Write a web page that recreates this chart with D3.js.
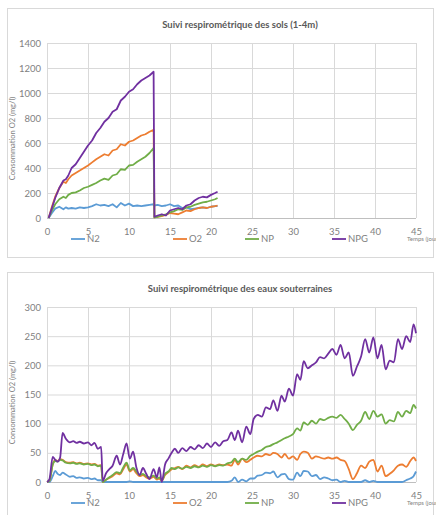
<!DOCTYPE html>
<html>
<head>
<meta charset="utf-8">
<script src="https://cdnjs.cloudflare.com/ajax/libs/d3/7.8.5/d3.min.js"></script>
<style>
  body { margin: 0; background: #fff; }
  text { font-family: Lato, "Open Sans", sans-serif; }
</style>
</head>
<body>
<div id="chart"></div>
<script>
// series shared by both charts
const seriesNames = ["N2", "O2", "NP", "NPG"];
const seriesColors = ["#5b9bd5", "#ed7d31", "#70ad47", "#7030a0"];
const xTicks = [0, 5, 10, 15, 20, 25, 30, 35, 40, 45];
const legendX = [71, 173, 245, 332];

// chart 1 : sols (1-4m)
const solsTitle = "Suivi respirométrique des sols (1-4m)";
const solsYTicks = [0, 200, 400, 600, 800, 1000, 1200, 1400];
const solsTime = [0.2, 0.6, 1.0, 1.5, 2.0, 2.3, 2.6, 3.0, 3.5, 4.0, 4.5, 5.0, 5.5, 6.0, 6.5,
  7.0, 7.5, 8.0, 8.5, 9.0, 9.5, 10.0, 10.5, 11.0, 11.5, 12.0, 12.5, 13.0, 13.1, 13.5,
  14.0, 14.5, 15.0, 15.5, 16.0, 16.5, 17.0, 17.5, 18.0, 18.5, 19.0, 19.5, 20.0, 20.5, 20.8];
const solsN2 = [0, 40, 75, 90, 70, 85, 75, 80, 75, 85, 80, 85, 95, 110, 100,
  105, 95, 110, 85, 120, 100, 115, 95, 100, 95, 100, 105, 110, 100, 105,
  95, 100, 110, 95, 100, 80, 85, 70, 75, 80, 85, 80, 90, 95, 95];
const solsO2 = [0, 90, 170, 240, 290, 280, 310, 340, 360, 380, 400, 420, 445, 470, 490,
  510, 500, 540, 550, 590, 580, 610, 620, 640, 660, 670, 690, 705, 5, 10,
  15, 25, 40, 35, 30, 45, 60, 55, 70, 80, 85, 80, 90, 95, 100];
const solsNP = [0, 60, 110, 150, 170, 160, 185, 200, 205, 220, 240, 250, 265, 280, 300,
  315, 305, 340, 350, 390, 385, 420, 425, 450, 470, 490, 520, 560, 5, 10,
  20, 30, 45, 55, 70, 65, 85, 90, 105, 115, 125, 130, 140, 150, 160];
const solsNPG = [0, 80, 160, 240, 300, 310, 340, 400, 430, 480, 530, 580, 620, 680, 720,
  770, 800, 850, 870, 940, 970, 1010, 1030, 1070, 1100, 1120, 1140, 1170, 10, 20,
  30, 20, 60, 70, 80, 70, 100, 110, 140, 160, 170, 165, 185, 200, 210];

// chart 2 : eaux souterraines
const eauxTitle = "Suivi respirométrique des eaux souterraines";
const eauxYTicks = [0, 50, 100, 150, 200, 250, 300];
const eauxTime = [0, 0.3, 0.7, 1.0, 1.3, 1.6, 1.9, 2.3, 2.8, 3.2,
  3.6, 4.0, 4.5, 5.0, 5.4, 5.8, 6.2, 6.6, 6.8, 7.2,
  7.6, 8.0, 8.5, 8.9, 9.3, 9.7, 10.1, 10.5, 10.9, 11.3,
  11.7, 12.1, 12.5, 13.0, 13.4, 13.7, 14.0, 14.4, 14.8, 15.2,
  15.6, 16.0, 16.5, 17.0, 17.5, 18.0, 18.5, 19.0, 19.5, 20.0,
  20.5, 21.0, 21.5, 22.0, 22.5, 22.9, 23.3, 23.8, 24.3, 24.8,
  25.2, 25.7, 26.2, 26.7, 27.2, 27.6, 28.1, 28.6, 29.0, 29.5,
  30.0, 30.5, 30.9, 31.3, 31.8, 32.3, 32.8, 33.3, 33.8, 34.3,
  34.8, 35.3, 35.8, 36.3, 36.8, 37.3, 37.8, 38.3, 38.8, 39.3,
  39.8, 40.3, 40.8, 41.3, 41.8, 42.3, 42.8, 43.3, 43.8, 44.3,
  44.7, 45.0];
const eauxN2 = [0, 0, 10, 19, 14, 12, 16, 13, 9, 10,
  7, 8, 6, 7, 5, 6, 3, 3, 0, 0,
  0, 0, 0, 0, 0, 0, 1, 0, 0, 0,
  0, 0, 0, 0, 0, 0, 0, 0, 0, 0,
  0, 0, 0, 0, 0, 0, 0, 0, 0, 0,
  0, 0, 0, 0, 2, 8, 0, 4, 1, 6,
  6, 11, 12, 16, 15, 18, 8, 13, 14, 5,
  4, 16, 10, 19, 18, 10, 12, 5, 8, 6,
  3, 4, 0, 2, 0, 0, 0, 0, 3, 0,
  2, 0, 0, 0, 0, 0, 0, 0, 3, 6,
  10, 18];
const eauxO2 = [0, 2, 30, 38, 36, 39, 38, 34, 33, 34,
  32, 33, 31, 32, 30, 31, 28, 29, 0, 4,
  7, 10, 15, 13, 22, 30, 18, 22, 15, 10,
  12, 8, 6, 9, 4, 6, 2, 12, 17, 22,
  24, 26, 22, 28, 25, 29, 26, 30, 27, 30,
  28, 30, 29, 30, 28, 38, 30, 40, 34, 38,
  42, 45, 44, 48, 46, 50, 48, 42, 48, 40,
  44, 38, 48, 52, 50, 40, 44, 42, 40, 42,
  40, 42, 38, 36, 22, 5, 15, 28, 24, 35,
  38, 18, 28, 10, 14, 20, 28, 30, 26, 36,
  42, 36];
const eauxNP = [0, 2, 30, 36, 35, 38, 37, 33, 32, 33,
  31, 32, 30, 31, 29, 30, 27, 28, 0, 4,
  8, 12, 17, 15, 25, 33, 20, 24, 18, 12,
  14, 10, 8, 11, 6, 8, 3, 14, 18, 24,
  22, 25, 23, 26, 24, 27, 25, 28, 26, 29,
  27, 29, 28, 32, 34, 40, 34, 40, 38, 45,
  48, 52, 55, 60, 62, 65, 68, 72, 75, 78,
  82, 92, 88, 102, 98, 105, 100, 108, 106, 110,
  112, 110, 115, 108, 100, 89, 98, 105, 120, 108,
  122, 112, 116, 100, 106, 104, 120, 112, 122, 118,
  132, 126];
const eauxNPG = [0, 5, 43, 38, 35, 42, 84, 74, 68, 70,
  67, 69, 66, 68, 63, 67, 57, 60, 2, 15,
  22, 28, 45, 30, 48, 66, 40, 52, 25, 12,
  24, 14, 5, 22, 8, 25, 0, 30, 40, 50,
  57, 50, 58, 53, 60, 56, 63, 58, 66, 60,
  68, 62, 70, 72, 85, 72, 88, 68, 95, 82,
  108, 115, 112, 128, 125, 140, 122, 148, 138, 160,
  148, 185, 175, 207, 195, 200, 205, 214, 212, 220,
  228, 218, 235, 212, 222, 182, 198, 215, 245, 222,
  248, 212, 235, 193, 208, 205, 245, 228, 250, 240,
  270, 255];

const svg = d3
  .select("#chart")
  .append("svg")
  .attr("width", 436)
  .attr("height", 515);

svg.append("rect").attr("width", 436).attr("height", 515).attr("fill", "#fff");

function drawChart(top, title, time, series, yTicks, curve) {
  const g = svg.append("g").attr("transform", `translate(0, ${top})`);
  const plotTop = 35;
  const plotBottom = 210;
  const x = d3.scaleLinear().domain([0, 45]).range([47, 416]);
  const y = d3
    .scaleLinear()
    .domain([0, yTicks[yTicks.length - 1]])
    .range([plotBottom, plotTop]);

  // chart frame
  g.append("rect")
    .attr("x", 7.5)
    .attr("y", 0.5)
    .attr("width", 426)
    .attr("height", 249)
    .attr("fill", "#fff")
    .attr("stroke", "#d9d9d9");

  g.append("text")
    .attr("x", 240)
    .attr("y", 20)
    .attr("text-anchor", "middle")
    .attr("font-size", 9.5)
    .attr("font-weight", 700)
    .attr("fill", "#595959")
    .text(title);

  // gridlines + tick labels
  const yAxis = g
    .append("g")
    .attr("transform", `translate(${x(0)}, 0)`)
    .call(
      d3
        .axisLeft(y)
        .tickValues(yTicks)
        .tickFormat(d3.format("d"))
        .tickSize(-(x(45) - x(0)))
        .tickPadding(6)
    );
  const xAxis = g
    .append("g")
    .attr("transform", `translate(0, ${plotBottom})`)
    .call(d3.axisBottom(x).tickValues(xTicks).tickSize(-(plotBottom - plotTop)));
  [yAxis, xAxis].forEach(function(a) {
    a.select(".domain").remove();
    a.selectAll("line").attr("stroke", "#d9d9d9");
    a.selectAll("text")
      .attr("fill", "#7f7f7f")
      .attr("font-size", 9.5)
      .style("font-family", "Lato, 'Open Sans', sans-serif");
  });
  xAxis.selectAll("text").attr("y", 14).attr("dy", "0.35em");

  g.append("line")
    .attr("x1", x(0))
    .attr("x2", x(45))
    .attr("y1", plotBottom + 0.5)
    .attr("y2", plotBottom + 0.5)
    .attr("stroke", "#bfbfbf");

  // axis titles
  g.append("text")
    .attr("transform", `translate(15, ${(plotTop + plotBottom) / 2 + 8}) rotate(-90)`)
    .attr("text-anchor", "middle")
    .attr("font-size", 7.5)
    .attr("fill", "#7f7f7f")
    .text("Consommation O2 (mg/l)");
  // cut by the right edge, as in the original
  g.append("text")
    .attr("x", 407)
    .attr("y", plotBottom + 23)
    .attr("font-size", 6)
    .attr("fill", "#7f7f7f")
    .text("Temps (jours)");

  // the lines
  const line = d3
    .line()
    .x(function(d) { return x(d[0]); })
    .y(function(d) { return y(d[1]); })
    .curve(curve);

  series.forEach(function(values, i) {
    g.append("path")
      .datum(time.map(function(t, k) { return [t, values[k]]; }))
      .attr("fill", "none")
      .attr("stroke", seriesColors[i])
      .attr("stroke-width", 1.8)
      .attr("stroke-linejoin", "round")
      .attr("d", line);
  });

  // legend
  const legend = g.append("g").attr("transform", `translate(0, ${plotBottom + 21})`);
  seriesNames.forEach(function(name, i) {
    legend.append("line")
      .attr("x1", legendX[i])
      .attr("x2", legendX[i] + 14)
      .attr("stroke", seriesColors[i])
      .attr("stroke-width", 1.8);
    legend.append("text")
      .attr("x", legendX[i] + 16)
      .attr("dy", "0.35em")
      .attr("font-size", 9.5)
      .attr("fill", "#7f7f7f")
      .text(name);
  });
}

drawChart(8, solsTitle, solsTime, [solsN2, solsO2, solsNP, solsNPG], solsYTicks, d3.curveLinear);
drawChart(272, eauxTitle, eauxTime, [eauxN2, eauxO2, eauxNP, eauxNPG], eauxYTicks, d3.curveMonotoneX);
</script>
</body>
</html>
